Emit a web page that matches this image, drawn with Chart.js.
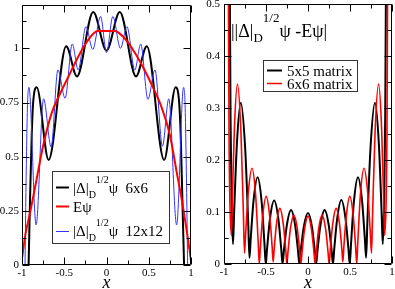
<!DOCTYPE html>
<html>
<head>
<meta charset="utf-8">
<script src="https://cdn.jsdelivr.net/npm/chart.js@4"></script>
<style>
  html, body { margin: 0; padding: 0; background: #fff; }
  #wrap { position: relative; width: 395px; height: 289px; }
  canvas { position: absolute; top: 0; }
  #left { left: 0; }
  #right { left: 200px; }
</style>
</head>
<body>
<div id="wrap">
  <canvas id="left" width="200" height="289"></canvas>
  <canvas id="right" width="195" height="289"></canvas>
</div>
<script>
// ---- tick values ----
const xTicks = [-1, -0.5, 0, 0.5, 1];
const xMinor = [-0.75, -0.25, 0.25, 0.75];
const leftYTicks = [0, 0.25, 0.5, 0.75, 1];
const leftYMinor = [0.125, 0.375, 0.625, 0.875, 1.125];
const rightYTicks = [0, 0.1, 0.2, 0.3, 0.4, 0.5];
const rightYMinor = [0.05, 0.15, 0.25, 0.35, 0.45];

// ---- left panel: |Δ|^1/2 ψ (6x6), Eψ, |Δ|^1/2 ψ (12x12) ----
const left6x = [-1, -0.94, -0.922, -0.905, -0.885, -0.866, -0.826, -0.685, -0.477, -0.35, -0.157, 0,
  0.157, 0.35, 0.477, 0.682, 0.818, 0.858, 0.878, 0.898, 0.918, 0.937, 1];
const left6y = [-1.2, -0.3, 0, 0.3, 0.6, 0.76, 0.82, 0.485, 1.01, 0.87, 1.168, 0.99,
  1.168, 0.87, 1.01, 0.485, 0.82, 0.76, 0.6, 0.3, 0, -0.3, -1.2];

const leftEx = [-1, -0.96, -0.9, -0.83, -0.75, -0.65, -0.55, -0.45, -0.35, -0.25, -0.15, -0.1,
  0.1, 0.15, 0.25, 0.35, 0.45, 0.55, 0.65, 0.75, 0.83, 0.9, 0.96, 1];
const leftEy = [0.03, 0.14, 0.25, 0.39, 0.55, 0.70, 0.79, 0.87, 0.95, 1.02, 1.07, 1.08,
  1.08, 1.07, 1.03, 0.97, 0.90, 0.82, 0.73, 0.60, 0.43, 0.28, 0.13, 0.02];

const left12x = [-1, -0.98, -0.964, -0.955, -0.945, -0.935, -0.918, -0.833, -0.745, -0.655, -0.575, -0.49,
  -0.405, -0.335, -0.243, -0.163, -0.07, 0, 0.075, 0.165, 0.242, 0.335, 0.405, 0.49, 0.574, 0.662,
  0.737, 0.83, 0.912, 0.93, 0.94, 0.95, 0.96, 0.978, 1];
const left12y = [-1.0, -0.4, 0, 0.3, 0.55, 0.74, 0.82, 0.185, 0.767, 0.545, 0.90, 0.77,
  1.02, 0.90, 1.10, 0.995, 1.147, 0.98, 1.147, 1.0, 1.10, 0.90, 1.02, 0.765, 0.90, 0.548,
  0.767, 0.185, 0.82, 0.74, 0.55, 0.3, 0, -0.4, -1.0];

// ---- right panel: ||Δ|^1/2 ψ - Eψ| for 5x5 and 6x6 ----
const right5x = [-1, -0.94, -0.93, -0.922, -0.91, -0.893,
  -0.879, -0.8465, -0.80, -0.7485, -0.712, -0.697,
  -0.682, -0.6485, -0.60, -0.5515, -0.518, -0.503,
  -0.488, -0.453, -0.403, -0.353, -0.318, -0.303,
  -0.288, -0.2525, -0.202, -0.1525, -0.118, -0.103,
  -0.088, -0.0515, 0, 0.0485, 0.082, 0.097,
  0.112, 0.1475, 0.198, 0.2475, 0.282, 0.297,
  0.312, 0.347, 0.397, 0.447, 0.482, 0.497,
  0.512, 0.546, 0.595, 0.6435, 0.677, 0.692,
  0.707, 0.7445, 0.797, 0.8435, 0.876, 0.89,
  0.907, 0.919, 0.927, 0.937, 1];
const right5y = [3, 1.0, 0.5, 0.28, 0.12, 0.038,
  0.101, 0.231, 0.31, 0.224, 0.081, 0.012,
  0.048, 0.122, 0.167, 0.119, 0.038, 0,
  0.028, 0.087, 0.122, 0.087, 0.028, 0,
  0.024, 0.074, 0.104, 0.074, 0.024, 0,
  0.023, 0.07, 0.098, 0.07, 0.023, 0,
  0.024, 0.074, 0.104, 0.074, 0.024, 0,
  0.028, 0.087, 0.123, 0.087, 0.028, 0,
  0.038, 0.119, 0.167, 0.122, 0.048, 0.012,
  0.081, 0.224, 0.31, 0.231, 0.101, 0.038,
  0.12, 0.28, 0.5, 1.0, 3];

const right6x = [-1, -0.955, -0.947, -0.94, -0.93, -0.912,
  -0.901, -0.876, -0.84, -0.798, -0.769, -0.756,
  -0.7425, -0.711, -0.666, -0.623, -0.593, -0.58,
  -0.568, -0.539, -0.498, -0.4565, -0.427, -0.415,
  -0.403, -0.375, -0.335, -0.2935, -0.264, -0.252,
  -0.239, -0.21, -0.168, -0.1265, -0.0975, -0.085,
  -0.072, -0.0425, 0, 0.0425, 0.072, 0.085,
  0.0975, 0.1265, 0.168, 0.21, 0.239, 0.252,
  0.264, 0.2935, 0.335, 0.375, 0.403, 0.415,
  0.427, 0.4565, 0.498, 0.539, 0.568, 0.58,
  0.593, 0.623, 0.666, 0.711, 0.7425, 0.756,
  0.769, 0.798, 0.84, 0.876, 0.901, 0.912,
  0.93, 0.94, 0.947, 0.955, 1];
const right6y = [3, 1.0, 0.5, 0.25, 0.12, 0.055,
  0.122, 0.262, 0.346, 0.252, 0.096, 0.021,
  0.058, 0.137, 0.184, 0.131, 0.042, 0,
  0.03, 0.092, 0.13, 0.093, 0.033, 0.004,
  0.028, 0.077, 0.107, 0.076, 0.025, 0,
  0.022, 0.067, 0.094, 0.067, 0.022, 0,
  0.021, 0.065, 0.092, 0.065, 0.021, 0,
  0.022, 0.067, 0.094, 0.067, 0.022, 0,
  0.025, 0.076, 0.107, 0.077, 0.028, 0.004,
  0.033, 0.093, 0.13, 0.092, 0.03, 0,
  0.042, 0.131, 0.184, 0.137, 0.058, 0.021,
  0.096, 0.252, 0.346, 0.262, 0.122, 0.055,
  0.12, 0.25, 0.5, 1.0, 3];

const FONT = '"Liberation Serif", "Times New Roman", serif';
Chart.defaults.font.family = FONT;
Chart.defaults.color = '#000';

const pts = (xs, ys) => xs.map((x, i) => ({ x: x, y: ys[i] }));

function series(xs, ys, color, width) {
  return {
    data: pts(xs, ys),
    borderColor: color,
    borderWidth: width,
    pointRadius: 0,
    fill: false,
    cubicInterpolationMode: 'monotone',
    clip: 0
  };
}

// draw text pieces with sub/superscripts, left to right
function mathText(ctx, x, y, parts) {
  parts.forEach(p => {
    ctx.font = p[1] + 'px ' + FONT;
    ctx.fillText(p[0], x, y + p[2]);
    x += ctx.measureText(p[0]).width;
  });
  return x;
}

// xmgrace style frame with inward ticks on all sides
function drawFrame(chart, yMaj, yMin) {
  const { ctx, chartArea: a, scales } = chart;
  const l = Math.round(a.left) + 0.5, r = Math.round(a.right) - 0.5;
  const t = Math.round(a.top) + 0.5, b = Math.round(a.bottom) - 0.5;
  ctx.save();
  ctx.strokeStyle = '#000';
  ctx.lineWidth = 1;
  ctx.beginPath();
  ctx.rect(l, t, r - l, b - t);
  const xt = (vals, len) => vals.forEach(v => {
    const p = Math.round(scales.x.getPixelForValue(v)) + 0.5;
    ctx.moveTo(p, b); ctx.lineTo(p, b - len);
    ctx.moveTo(p, t); ctx.lineTo(p, t + len);
  });
  const yt = (vals, len) => vals.forEach(v => {
    const p = Math.round(scales.y.getPixelForValue(v)) + 0.5;
    ctx.moveTo(l, p); ctx.lineTo(l + len, p);
    ctx.moveTo(r, p); ctx.lineTo(r - len, p);
  });
  xt(xTicks, 7); xt(xMinor, 4);
  yt(yMaj, 7); yt(yMin, 4);
  ctx.stroke();
  // axis title
  ctx.fillStyle = '#000';
  ctx.font = 'italic 18px ' + FONT;
  ctx.textAlign = 'center';
  ctx.textBaseline = 'alphabetic';
  ctx.fillText('x', (a.left + a.right) / 2, 288);
  ctx.restore();
}

function legendLine(ctx, x0, x1, y, color, width) {
  ctx.strokeStyle = color;
  ctx.lineWidth = width;
  ctx.beginPath();
  ctx.moveTo(x0, y); ctx.lineTo(x1, y);
  ctx.stroke();
}

const fmt = v => String(Number(Number(v).toFixed(3)));

function scalesFor(yMax, yStep, yWidth, xHeight, yPad) {
  return {
    x: {
      type: 'linear', min: -1, max: 1,
      grid: { display: false, drawTicks: false }, border: { display: false },
      ticks: { stepSize: 0.5, padding: 2, maxRotation: 0, font: { size: 11 }, color: '#000', callback: fmt },
      afterFit(s) { s.height = xHeight; s.paddingLeft = 0; s.paddingRight = 0; }
    },
    y: {
      type: 'linear', min: 0, max: yMax,
      grid: { display: false, drawTicks: false }, border: { display: false },
      ticks: { stepSize: yStep, includeBounds: false, padding: yPad, font: { size: 11 }, color: '#000', callback: fmt },
      afterFit(s) { s.width = yWidth; s.paddingTop = 0; s.paddingBottom = 0; }
    }
  };
}

const leftDeco = {
  id: 'leftDeco',
  afterDraw(chart) {
    drawFrame(chart, leftYTicks, leftYMinor);
    const ctx = chart.ctx;
    ctx.save();
    ctx.fillStyle = '#fff';
    ctx.fillRect(52.5, 171.5, 117, 72);
    ctx.strokeStyle = '#333';
    ctx.lineWidth = 1;
    ctx.strokeRect(52.5, 171.5, 117, 72);
    legendLine(ctx, 56, 69, 187.5, '#000', 2);
    legendLine(ctx, 56, 69, 206.5, '#ff0000', 2);
    legendLine(ctx, 56, 69, 231.5, '#3333ff', 1);
    ctx.fillStyle = '#000';
    ctx.textAlign = 'left';
    ctx.textBaseline = 'alphabetic';
    mathText(ctx, 73, 193, [['|\u0394|', 15, 0], ['D', 10, 5], ['1/2', 10, -10], ['\u03c8', 15, 0], ['  6x6', 15, 0]]);
    mathText(ctx, 73, 212, [['E\u03c8', 15, 0]]);
    mathText(ctx, 73, 236, [['|\u0394|', 15, 0], ['D', 10, 5], ['1/2', 10, -10], ['\u03c8', 15, 0], ['  12x12', 15, 0]]);
    ctx.restore();
  }
};

const rightDeco = {
  id: 'rightDeco',
  afterDraw(chart) {
    drawFrame(chart, rightYTicks, rightYMinor);
    const ctx = chart.ctx;
    ctx.save();
    ctx.fillStyle = '#000';
    ctx.textAlign = 'left';
    ctx.textBaseline = 'alphabetic';
    mathText(ctx, 31, 37, [['||\u0394|', 18, 0], ['D', 13, 5], ['1/2', 13, -15], ['\u03c8', 18, 0], [' -E\u03c8|', 18, 0]]);
    ctx.fillStyle = '#fff';
    ctx.fillRect(63.5, 60.5, 94, 31);
    ctx.strokeStyle = '#333';
    ctx.lineWidth = 1;
    ctx.strokeRect(63.5, 60.5, 94, 31);
    legendLine(ctx, 67, 82, 70.5, '#000', 2);
    legendLine(ctx, 67, 82, 83.5, '#ff0000', 1.5);
    ctx.fillStyle = '#000';
    mathText(ctx, 87, 75.5, [['5x5 matrix', 15, 0]]);
    mathText(ctx, 87, 88.5, [['6x6 matrix', 15, 0]]);
    ctx.restore();
  }
};

const common = {
  responsive: false,
  animation: false,
  devicePixelRatio: 1,
  plugins: { legend: { display: false }, tooltip: { enabled: false } }
};

new Chart(document.getElementById('left'), {
  type: 'line',
  data: {
    datasets: [
      series(leftEx, leftEy, '#ff0000', 2),
      series(left12x, left12y, '#3333ff', 1),
      series(left6x, left6y, '#000000', 2)
    ]
  },
  options: Object.assign({}, common, {
    layout: { padding: { left: 0, right: 9, top: 5, bottom: 0 } },
    scales: scalesFor(1.2, 0.25, 22, 24, 3)
  }),
  plugins: [leftDeco]
});

new Chart(document.getElementById('right'), {
  type: 'line',
  data: {
    datasets: [
      series(right6x, right6y, '#ff0000', 1.6),
      series(right5x, right5y, '#000000', 2)
    ]
  },
  options: Object.assign({}, common, {
    layout: { padding: { left: 0, right: 3, top: 4, bottom: 0 } },
    scales: scalesFor(0.5, 0.1, 24, 25, 4)
  }),
  plugins: [rightDeco]
});
</script>
</body>
</html>
